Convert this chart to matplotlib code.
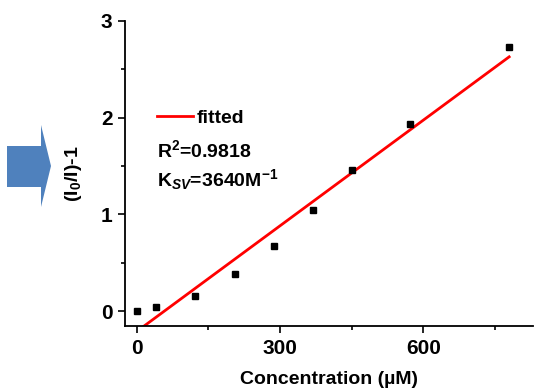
import matplotlib
matplotlib.use('Agg')
import matplotlib.pyplot as plt
import numpy as np
from matplotlib.patches import Polygon

# dados
conc = [0, 40, 122, 206, 287, 369, 451, 573, 780]
resposta = [0.0, 0.04, 0.16, 0.38, 0.67, 1.04, 1.46, 1.93, 2.73]

# reta ajustada (Ksv = 3640 M^-1 -> 0.00364 uM^-1)
fit_slope = 0.00364
fit_intercept = -0.21
fit_x = [0, 780]

r2_texto = 'R$^2$=0.9818'
ksv_texto = 'K$_{SV}$=3640M$^{-1}$'

plt.rcParams['font.family'] = ['Liberation Sans', 'DejaVu Sans']
plt.rcParams['font.weight'] = 'bold'
plt.rcParams['mathtext.fontset'] = 'custom'
plt.rcParams['mathtext.rm'] = 'Liberation Sans:bold'
plt.rcParams['mathtext.it'] = 'Liberation Sans:bold:italic'
plt.rcParams['mathtext.bf'] = 'Liberation Sans:bold'

fig = plt.figure(figsize=(5.35, 3.91), dpi=100)
ax = fig.add_axes([0.2336, 0.1662, 0.7627, 0.7801])

fx = np.array(fit_x, dtype=float)
ax.plot(fx, fit_slope * fx + fit_intercept, '-', color='red', linewidth=2, label='fitted', zorder=2)
ax.plot(conc, resposta, 's', color='black', markersize=5, zorder=3)

ax.set_xlim(-25, 830)
ax.set_ylim(-0.155, 3)
ax.set_xticks([0, 300, 600])
ax.set_xticks([150, 450, 750], minor=True)
ax.set_yticks([0, 1, 2, 3])
ax.set_yticks([0.5, 1.5, 2.5], minor=True)
ax.tick_params(which='major', direction='out', length=5, width=1.2, labelsize=15, pad=4)
ax.tick_params(which='minor', direction='out', length=3, width=1.2)
for lbl in ax.get_xticklabels() + ax.get_yticklabels():
    lbl.set_fontweight('bold')

ax.spines['top'].set_visible(False)
ax.spines['right'].set_visible(False)
ax.spines['left'].set_linewidth(1.3)
ax.spines['bottom'].set_linewidth(1.3)

ax.set_xlabel('Concentration (\u00b5M)', fontsize=14, fontweight='bold', labelpad=10)
ax.set_ylabel('(I$_0$/I)-1', fontsize=14, fontweight='bold', labelpad=12)

leg = ax.legend(loc='center left', bbox_to_anchor=(0.078, 0.682), frameon=False,
                fontsize=14, handlelength=1.85, handletextpad=0.2,
                borderpad=0, borderaxespad=0)
ax.text(0.078, 0.577, r2_texto, transform=ax.transAxes, fontsize=14, fontweight='bold', va='center')
ax.text(0.078, 0.48, ksv_texto, transform=ax.transAxes, fontsize=14, fontweight='bold', va='center')

# seta azul decorativa a esquerda (coordenadas em pixels da figura)
W, H = 535, 391
pts = [(7, 146), (41, 146), (41, 125), (51, 166), (41, 207), (41, 187), (7, 187)]
seta = Polygon([(x / W, 1 - y / H) for x, y in pts], closed=True,
               transform=fig.transFigure, facecolor='#4f81bd', edgecolor='none')
fig.patches.append(seta)

fig.savefig('out.png', dpi=100)
